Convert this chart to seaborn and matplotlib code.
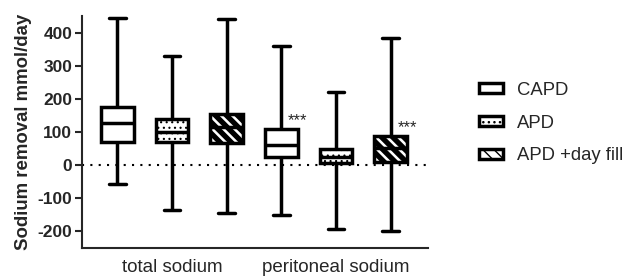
import numpy as np
import pandas as pd
import matplotlib
matplotlib.use("Agg")
import matplotlib.pyplot as plt
import seaborn as sns
from matplotlib.patches import Patch

categories = ["total sodium", "peritoneal sodium"]
groups = ["CAPD", "APD", "APD +day fill"]

# five-number summaries [category][group]
mins = [[-59, -137, -147], [-152, -196, -201]]
q1s = [[69, 71, 66], [23, 5, 10]]
meds = [[127, 100, 115], [59, 25, 50]]
q3s = [[176, 139, 155], [109, 49, 88]]
maxs = [[447, 330, 443], [363, 223, 386]]

stars = [["", "", ""], ["***", "", "***"]]

rows = []
for ci, cat in enumerate(categories):
    for gi, grp in enumerate(groups):
        for v in (mins[ci][gi], q1s[ci][gi], meds[ci][gi], q3s[ci][gi], maxs[ci][gi]):
            rows.append({"category": cat, "group": grp, "value": v})
df = pd.DataFrame(rows)

sns.set_style("ticks")
plt.rcParams["font.family"] = ["Liberation Sans", "DejaVu Sans"]
plt.rcParams["axes.unicode_minus"] = False

fig = plt.figure(figsize=(6.3, 2.77), dpi=100)
ax = fig.add_axes([82 / 630, 1 - 248 / 277, (428 - 82) / 630, (248 - 16) / 277])

LW = 2.5
ax.axhline(0, color="black", lw=1.5, ls=(0, (1, 3)), zorder=0.5)

sns.boxplot(data=df, x="category", y="value", hue="group", order=categories,
            hue_order=groups, palette={g: "white" for g in groups},
            linecolor="black", linewidth=LW, width=1.0, gap=0.4,
            whis=(0, 100), dodge=True, legend=False, ax=ax, zorder=2)

hatches = ["", "...", "\\\\\\"]
hatch_lws = [1.0, 0.8, 3.8]

boxes = [p for p in ax.patches]
def xc(p):
    v = p.get_path().vertices
    return (v[:, 0].min() + v[:, 0].max()) / 2
boxes.sort(key=xc)
for i, p in enumerate(boxes):
    gi = i % 3
    p.set_hatch(hatches[gi])
    if hasattr(p, "set_hatch_linewidth"):
        p.set_hatch_linewidth(hatch_lws[gi])
    p.set_edgecolor("black")
    p.set_linewidth(LW)

# significance stars
offsets = [-1 / 3, 0, 1 / 3]
for ci in range(len(categories)):
    for gi in range(len(groups)):
        if stars[ci][gi]:
            ax.text(ci + offsets[gi] + 0.1, q3s[ci][gi] + 2, stars[ci][gi],
                    ha="center", va="bottom", fontsize=12)

ax.set_xlim(-0.549, 1.561)
ax.set_ylim(-253, 453)
ax.set_yticks([-200, -100, 0, 100, 200, 300, 400])
ax.set_xlabel("")
ax.set_ylabel("Sodium removal mmol/day", fontsize=13.4, fontweight="bold", labelpad=4)
ax.tick_params(axis="y", labelsize=12.5, width=1.5, length=5, pad=2)
for t in ax.get_yticklabels():
    t.set_fontweight("bold")
ax.tick_params(axis="x", length=0, labelsize=13.5, pad=8)
for s in ["top", "right"]:
    ax.spines[s].set_visible(False)
for s in ["left", "bottom"]:
    ax.spines[s].set_linewidth(1.5)

handles = []
for gi, g in enumerate(groups):
    h = Patch(facecolor="white", edgecolor="black", linewidth=LW, hatch=hatches[gi], label=g)
    if hasattr(h, "set_hatch_linewidth"):
        h.set_hatch_linewidth(hatch_lws[gi])
    handles.append(h)
fig.legend(handles=handles, loc="center left", bbox_to_anchor=(462 / 630, 1 - 123 / 277),
           frameon=False, fontsize=13.3, handlelength=1.3, handleheight=0.45,
           labelspacing=0.85, handletextpad=0.8)

fig.savefig("out.png", dpi=100)
